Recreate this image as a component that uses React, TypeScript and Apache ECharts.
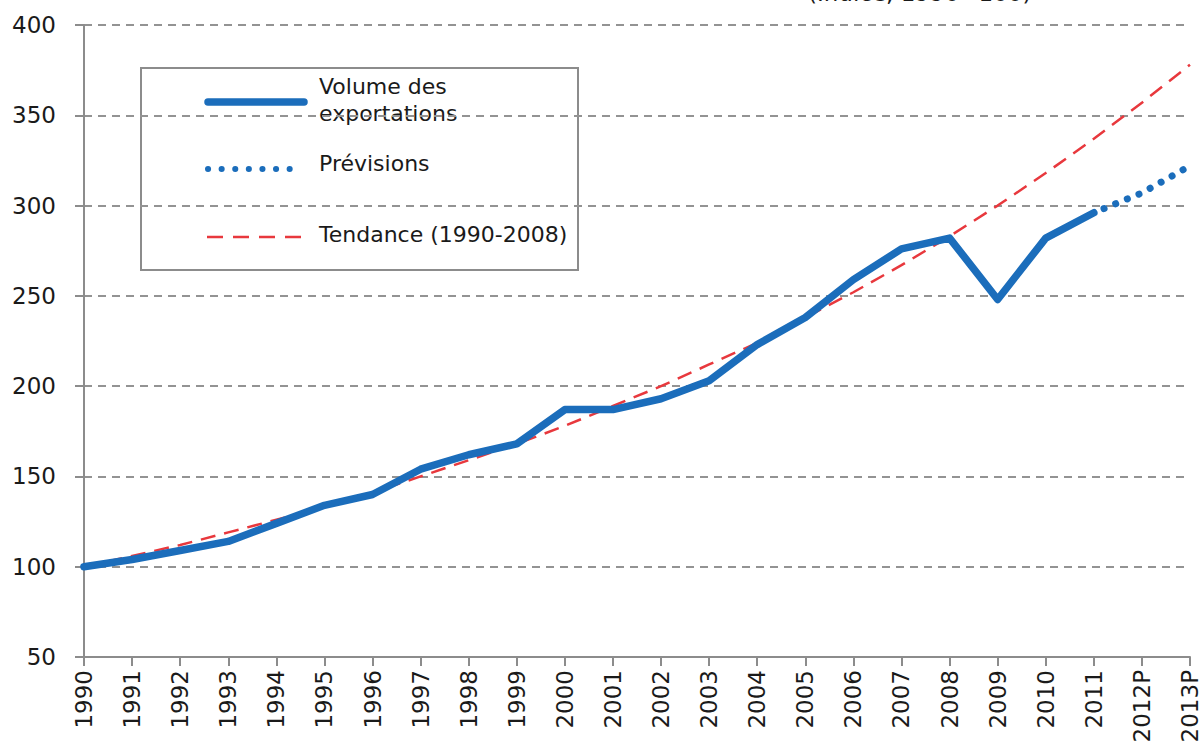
import React, { useEffect, useRef } from "react";
import * as echarts from "echarts";

const years = ["1990","1991","1992","1993","1994","1995","1996","1997","1998","1999","2000","2001","2002","2003","2004","2005","2006","2007","2008","2009","2010","2011","2012P","2013P"];
const exportVolume = [100,104,109,114,124,134,140,154,162,168,187,187,193,203,223,238,259,276,282,248,282,296,null,null];
const forecast = [null,null,null,null,null,null,null,null,null,null,null,null,null,null,null,null,null,null,null,null,null,296,307,322];
const trend = [100,106,112,119,126,133,141,150,159,168,178,189,200,212,224,238,252,267,283,300,318,337,357,378];
const yTicks = { min: 50, max: 400, interval: 50 };

const FONT = "DejaVu Sans";
const BLUE = "#1b6dbb";
const RED = "#e8383d";

export default function App() {
  const ref = useRef<HTMLDivElement>(null);
  useEffect(() => {
    const chart = echarts.init(ref.current!, null, { renderer: "svg" });
    chart.setOption({
      animation: false,
      backgroundColor: "#fff",
      grid: { left: 84, right: 14, top: 25, bottom: 99, containLabel: false },
      xAxis: {
        type: "category",
        data: years,
        boundaryGap: false,
        axisLine: { lineStyle: { color: "#8c8c8c", width: 2 } },
        axisTick: { show: true, length: 9, alignWithLabel: true, lineStyle: { color: "#8c8c8c", width: 2 } },
        axisLabel: { rotate: 90, interval: 0, fontFamily: FONT, fontSize: 23, color: "#1a1a1a", margin: 13 },
        splitLine: { show: false },
      },
      yAxis: {
        type: "value",
        min: yTicks.min,
        max: yTicks.max,
        interval: yTicks.interval,
        axisLine: { show: true, lineStyle: { color: "#8c8c8c", width: 2 } },
        axisTick: { show: true, length: 9, lineStyle: { color: "#8c8c8c", width: 2 } },
        axisLabel: { fontFamily: FONT, fontSize: 23, color: "#1a1a1a", margin: 28 },
        splitLine: { show: true, lineStyle: { color: "#939393", width: 2, type: [8, 6] } },
      },
      series: [
        {
          name: "Tendance (1990-2008)",
          type: "line",
          data: trend,
          symbol: "none",
          z: 3,
          lineStyle: { color: RED, width: 2.5, type: [15, 9] },
        },
        {
          name: "Volume des exportations",
          type: "line",
          data: exportVolume,
          symbol: "none",
          z: 4,
          lineStyle: { color: BLUE, width: 7.5, join: "round", cap: "round" },
        },
        {
          name: "Prévisions",
          type: "line",
          data: forecast,
          symbol: "none",
          z: 4,
          lineStyle: { color: BLUE, width: 7, type: [0.1, 12.5], cap: "round", dashOffset: -11 },
        },
      ],
      graphic: [
        {
          type: "text",
          left: 808,
          top: -19,
          style: { text: "(Indice, 1990=100)", fontFamily: FONT, fontSize: 23, fill: "#1a1a1a" },
        },
        {
          type: "group",
          left: 140,
          top: 67,
          z: 10,
          children: [
            { type: "rect", shape: { x: 0, y: 0, width: 437, height: 202 }, style: { fill: "#fff", stroke: "#8c8c8c", lineWidth: 2 } },
            { type: "line", shape: { x1: 67, y1: 34, x2: 163, y2: 34 }, style: { stroke: BLUE, lineWidth: 7.5, lineCap: "round" } },
            { type: "text", x: 178, y: 5, style: { text: "Volume des\nexportations", fontFamily: FONT, fontSize: 22, lineHeight: 27, fill: "#1a1a1a" } },
            { type: "line", shape: { x1: 67, y1: 101, x2: 155, y2: 101 }, style: { stroke: BLUE, lineWidth: 6, lineCap: "round", lineDash: [0.1, 13.5] } },
            { type: "text", x: 178, y: 84, style: { text: "Prévisions", fontFamily: FONT, fontSize: 22, fill: "#1a1a1a" } },
            { type: "line", shape: { x1: 66, y1: 169, x2: 160, y2: 169 }, style: { stroke: RED, lineWidth: 2.5, lineDash: [16, 10] } },
            { type: "text", x: 178, y: 155, style: { text: "Tendance (1990-2008)", fontFamily: FONT, fontSize: 22, fill: "#1a1a1a" } },
          ],
        },
      ],
    });
    return () => chart.dispose();
  }, []);
  return <div ref={ref} style={{ width: 1204, height: 756, position: "absolute", left: 0, top: 0 }} />;
}
